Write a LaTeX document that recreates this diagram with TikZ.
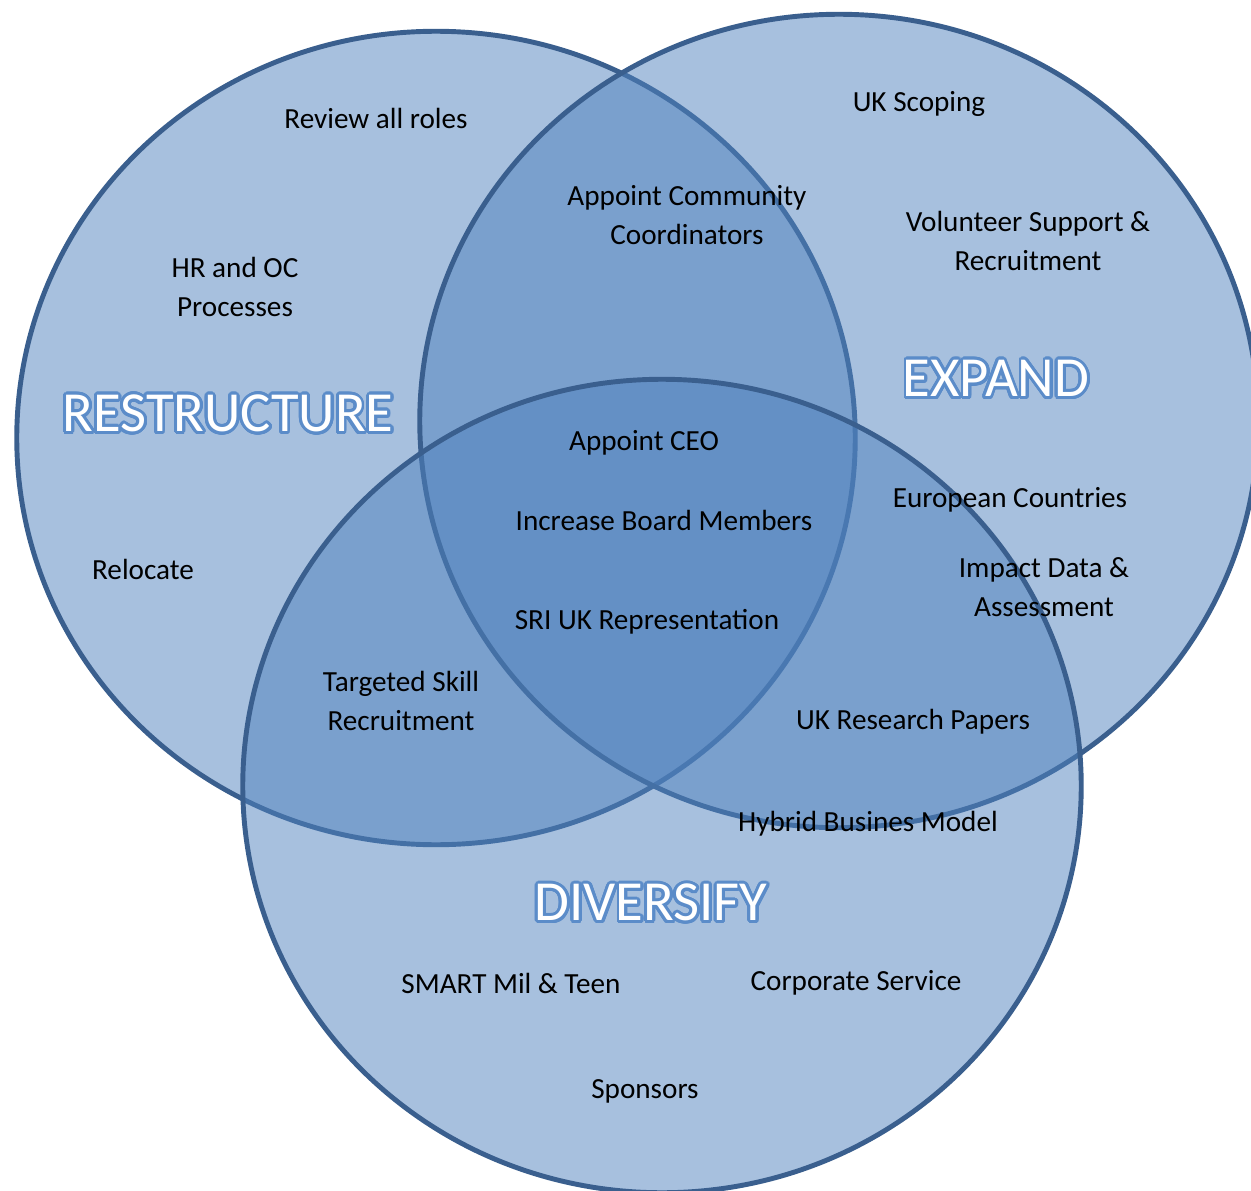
\documentclass[tikz,border=0pt]{standalone}
\usepackage{fontspec}
\setmainfont{Carlito}
\usepackage[copies]{contour}
\usepackage{tikz}
\usetikzlibrary{positioning}

\definecolor{vennfill}{HTML}{4F81BD}
\definecolor{vennline}{HTML}{3A5F8E}
\definecolor{glow}{HTML}{5B8CC9}
\contourlength{0.8pt}
\contournumber{32}

\begin{document}
\begin{tikzpicture}[
    x=0.01cm, y=-0.01cm,
    setcircle/.style={draw=vennline, line width=1.4pt, fill=vennfill, fill opacity=0.5},
    item/.style={align=center, text=black, font=\fontsize{8.3}{11.1}\selectfont},
    settitle/.style={text=white, font=\fontsize{16.1}{18}\selectfont}
]
    \useasboundingbox (0,0) rectangle (1251,1191);

    % The three sets
    \draw [setcircle] (436,438) ellipse [x radius=4.19cm, y radius=4.065cm];
    \draw [setcircle] (839,421) ellipse [x radius=4.19cm, y radius=4.065cm];
    \draw [setcircle] (662,786) ellipse [x radius=4.19cm, y radius=4.065cm];

    % Set names
    \node [settitle] (restructure) at (228,415) {\contour{glow}{RESTRUCTURE}};
    \node [settitle] (expand) at (996,380) {\contour{glow}{EXPAND}};
    \node [settitle] (diversify) at (651,904) {\contour{glow}{DIVERSIFY}};

    % Restructure only
    \node [item] (roles) at (376,118) {Review all roles};
    \node [item] (hr) at (235,287) {HR and OC\\Processes};
    \node [item] (relocate) at (143,569) {Relocate};

    % Expand only
    \node [item] (scoping) at (919,104) {UK Scoping};
    \node [item] (volunteer) at (1028,241) {Volunteer Support \&\\Recruitment};
    \node [item] (european) at (1010,500) {European Countries};
    \node [item] (impact) at (1044,587) {Impact Data \&\\Assessment};

    % Overlaps
    \node [item] (community) at (687,215) {Appoint Community\\Coordinators};
    \node [item] (ceo) at (644,443) {Appoint CEO};
    \node [item] (board) at (664,520) {Increase Board Members};
    \node [item] (sri) at (647,622) {SRI UK Representation};
    \node [item] (skill) at (401,701) {Targeted Skill\\Recruitment};
    \node [item] (papers) at (913,722) {UK Research Papers};
    \node [item] (hybrid) at (868,824) {Hybrid Busines Model};

    % Diversify only
    \node [item] (smart) at (511,983) {SMART Mil \& Teen};
    \node [item] (corporate) at (856,983) {Corporate Service};
    \node [item] (sponsors) at (645,1091) {Sponsors};
\end{tikzpicture}
\end{document}
